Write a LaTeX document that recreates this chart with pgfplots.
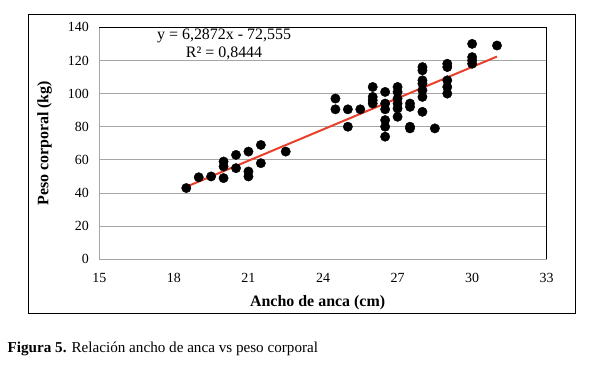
\documentclass[border=0pt]{standalone}
\usepackage{pgfplots}
\pgfplotsset{compat=1.18}
\usepackage{fontspec}
\setmainfont{Liberation Serif}
\definecolor{trend}{HTML}{E8402A}
\definecolor{gridc}{HTML}{A6A6A6}
\begin{document}
\begin{tikzpicture}[x=1bp,y=1bp]
\path[use as bounding box] (0,0) rectangle (590,364);
\draw[black, line width=0.9bp] (28.7,50.6) rectangle (575.7,349.3);
\begin{axis}[
  at={(99.3bp,104.7bp)}, anchor=south west,
  scale only axis, width=447.4bp, height=232bp,
  xmin=15, xmax=33, ymin=0, ymax=140,
  xtick={15,18,21,24,27,30,33},
  ytick={0,20,40,60,80,100,120,140},
  ymajorgrids, grid style={gridc, line width=0.8bp},
  major tick length=0pt,
  axis line style={gridc, line width=0.8bp},
  tick label style={font=\fontsize{14}{16}\selectfont},
  /pgf/number format/assume math mode=true,
  xticklabel style={yshift=-10bp},
  yticklabel style={xshift=-7bp},
  xlabel={\textbf{Ancho de anca (cm)}},
  ylabel={\textbf{Peso corporal (kg)}},
  label style={font=\fontsize{16}{18}\selectfont},
  xlabel style={at={(axis description cs:0.488,-0.188)}, anchor=center},
  ylabel style={at={(axis description cs:-0.122,0.5)}, anchor=center, rotate=0},
  clip=false,
]
\addplot[only marks, mark=*, mark size=4.7bp, black] coordinates {
(18.5,43) (19,49.5) (19.5,50) (20,49) (20,56) (20,59) (20.5,55) (20.5,63)
(21,65) (21,53) (21,50) (21.5,69) (21.5,58) (22.5,65)
(24.5,97) (24.5,90.5) (25,90.5) (25,80) (25.5,90.5)
(26,104) (26,98) (26,96) (26,94)
(26.5,101) (26.5,94) (26.5,90.5) (26.5,84) (26.5,80) (26.5,74)
(27,104) (27,101) (27,97) (27,94) (27,91) (27,86)
(27.5,94) (27.5,92) (27.5,80) (27.5,79)
(28,116) (28,114) (28,108) (28,106) (28,102) (28,98) (28,89)
(28.5,79)
(29,118) (29,116) (29,108) (29,104) (29,100)
(30,130) (30,122) (30,120) (30,118)
(31,129)
};
\addplot[trend, line width=2bp] coordinates {(18.5,43.76) (31,122.35)};
\draw[black, line width=0.9bp] (rel axis cs:0,1) -- (rel axis cs:1,1) -- (rel axis cs:1,0);
\node[align=center, font=\fontsize{16}{18}\selectfont, inner sep=0pt] at (axis cs:20.02,129.9) {y = 6,2872x - 72,555\\R² = 0,8444};
\end{axis}
\node[anchor=base west, inner sep=0pt, font=\fontsize{15.2}{17}\selectfont] at (7.5,12) {\textbf{Figura 5.} Relación ancho de anca vs peso corporal};
\end{tikzpicture}
\end{document}
